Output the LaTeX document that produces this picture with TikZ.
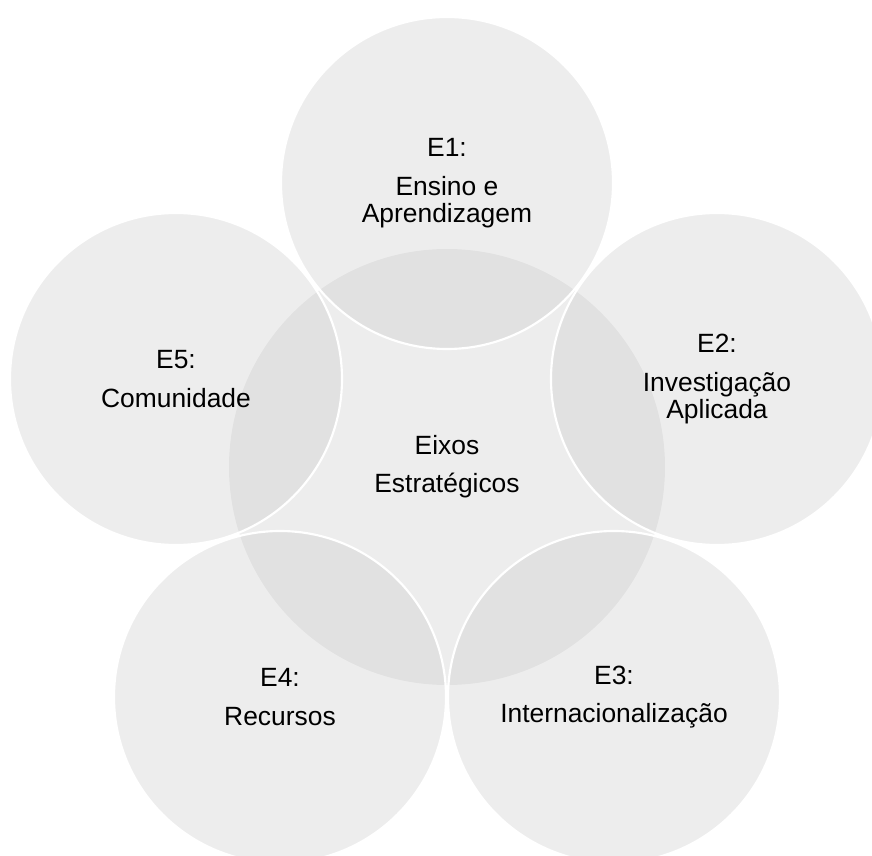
\documentclass[tikz,border=0pt]{standalone}
\usepackage{fontspec}
\setmainfont{Liberation Sans}
\tikzset{
  disc/.style={circle,inner sep=0pt,align=center,
    fill=black!21,fill opacity=0.33,text opacity=1,
    font=\fontsize{19.8}{20.3}\selectfont},
  hub/.style={disc,minimum size=327pt},
  petal/.style={disc,draw=white,line width=1.6pt,minimum size=249pt}
}

\begin{document}
\begin{tikzpicture}[x=0.75pt,y=-0.75pt]
  \useasboundingbox (0,0) rectangle (872,856);
  %--- Central axis -----------------------------------------------------------
  \node[hub] (hub) at (447,467) {Eixos\\[8pt]Estratégicos};

  %--- Five axes around it ----------------------------------------------------
  \node[petal] (e1) at (447,183) {E1:\\[8.5pt]Ensino e\\Aprendizagem};
  \node[petal] (e2) at (717,379) {E2:\\[8.5pt]Investigação\\Aplicada};
  \node[petal] (e3) at (614,697) {E3:\\[8.5pt]Internacionalização};
  \node[petal] (e4) at (280,697) {E4:\\[8.5pt]Recursos};
  \node[petal] (e5) at (176,379) {E5:\\[8.5pt]Comunidade};
\end{tikzpicture}
\end{document}
